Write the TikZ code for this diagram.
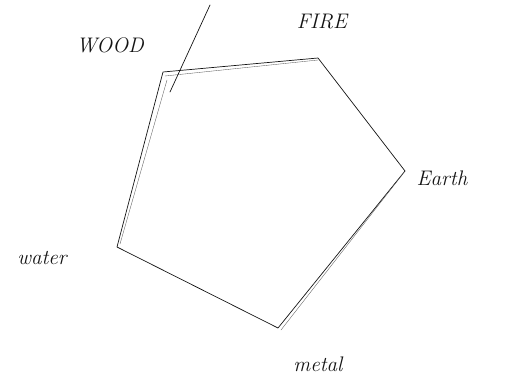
\documentclass[tikz,border=0pt]{standalone}
\usepackage{xcolor}
\usetikzlibrary{positioning,calc}
\definecolor{ink}{RGB}{20,20,20}
\tikzset{
  stroke/.style={thin,ink,line cap=round,line join=round},
  rough/.style={very thin,ink!70,line cap=round},
  corner/.style={inner sep=0pt,minimum size=0pt},
  label/.style={font=\large\itshape,text=ink,inner sep=1pt}
}

\begin{document}
\begin{tikzpicture}[x=0.02cm,y=-0.02cm]
  \useasboundingbox (0,0) rectangle (514,388);
  % corners of the cycle
  \coordinate (wood) at (163,72);
  \coordinate (fire) at (318,58);
  \coordinate (earth) at (405,171);
  \coordinate (metal) at (278,328);
  \coordinate (water) at (117,247);
  \coordinate (tail) at (210,5);
  \coordinate (foot) at (170,92);
  % element names
  \node[label] (woodname) at (110,45) {WOOD};
  \node[label] (firename) at (322,22) {FIRE};
  \node[label] (earthname) at (442,178) {Earth};
  \node[label] (watername) at (42,258) {water};
  \node[label] (metalname) at (318,364) {metal};
  % the pentagon
  \draw[stroke] (wood)--(fire)--(earth)--(metal)--(water)--cycle;
  \draw[rough] ($(wood)+(2,4)$)--($(fire)+(0,2)$);
  \draw[rough] ($(earth)+(-3,4)$)--($(metal)+(3,2)$);
  \draw[rough] ($(water)+(3,-3)$)--($(wood)+(4,8)$);
  \draw[stroke] (foot)--(tail);
\end{tikzpicture}
\end{document}
